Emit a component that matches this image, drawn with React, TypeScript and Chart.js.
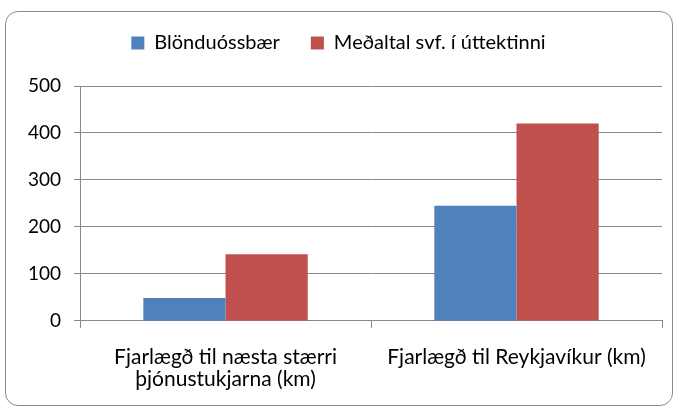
import React, { useEffect, useRef } from "react";
import { Chart, registerables } from "chart.js";

Chart.register(...registerables);

const categories: string[][] = [
  ["Fjarlægð til næsta stærri", "þjónustukjarna (km)"],
  ["Fjarlægð til Reykjavíkur (km)"],
];
const blonduossbaer: number[] = [49, 245];
const medaltal: number[] = [142, 420];
const seriesNames: string[] = ["Blönduóssbær", "Meðaltal svf. í úttektinni"];
const yMax = 500;
const yStep = 100;

const FONT = "Lato, 'Open Sans', sans-serif";

const legendSpace = {
  id: "legendSpace",
  beforeInit(chart: any) {
    const lg = chart.legend;
    if (!lg) return;
    const orig = lg.fit.bind(lg);
    lg.fit = function () {
      orig();
      this.height += 23;
    };
  },
};

export default function App() {
  const ref = useRef<HTMLCanvasElement | null>(null);
  useEffect(() => {
    if (!ref.current) return;
    const chart = new Chart(ref.current, {
      type: "bar",
      data: {
        labels: categories,
        datasets: [
          {
            label: seriesNames[0],
            data: blonduossbaer,
            backgroundColor: "#4F81BD",
            barPercentage: 1,
            categoryPercentage: 0.565,
          },
          {
            label: seriesNames[1],
            data: medaltal,
            backgroundColor: "#C0504D",
            barPercentage: 1,
            categoryPercentage: 0.565,
          },
        ],
      },
      plugins: [legendSpace],
      options: {
        animation: false,
        responsive: false,
        maintainAspectRatio: false,
        layout: { padding: { left: 15, right: 17, top: 2, bottom: 3 } },
        plugins: {
          tooltip: { enabled: false },
          legend: {
            position: "top",
            labels: {
              boxWidth: 13,
              boxHeight: 13,
              padding: 31,
              color: "#000",
              font: { family: FONT, size: 20 },
            },
          },
        },
        scales: {
          x: {
            grid: {
              display: true,
              drawOnChartArea: false,
              color: "#888",
              tickLength: 7,
              offset: true,
            },
            border: { display: true, color: "#888" },
            ticks: {
              color: "#000",
              font: { family: FONT, size: 21, lineHeight: 1.05 },
              maxRotation: 0,
              padding: 18,
            },
          },
          y: {
            min: 0,
            max: yMax,
            ticks: {
              stepSize: yStep,
              color: "#000",
              font: { family: FONT, size: 19 },
              padding: 13,
            },
            grid: { color: "#888", tickLength: 6 },
            border: { display: true, color: "#888" },
          },
        },
      },
    });
    return () => chart.destroy();
  }, []);
  return (
    <div style={{ position: "fixed", left: 0, top: 0, width: 679, height: 411, background: "#fff" }}>
      <canvas ref={ref} width={679} height={411} style={{ position: "absolute", left: 0, top: 0 }} />
      <div
        style={{
          position: "absolute",
          left: 5,
          top: 11,
          width: 666,
          height: 393,
          border: "1px solid #8a8a8a",
          borderRadius: 13,
          pointerEvents: "none",
        }}
      />
    </div>
  );
}
